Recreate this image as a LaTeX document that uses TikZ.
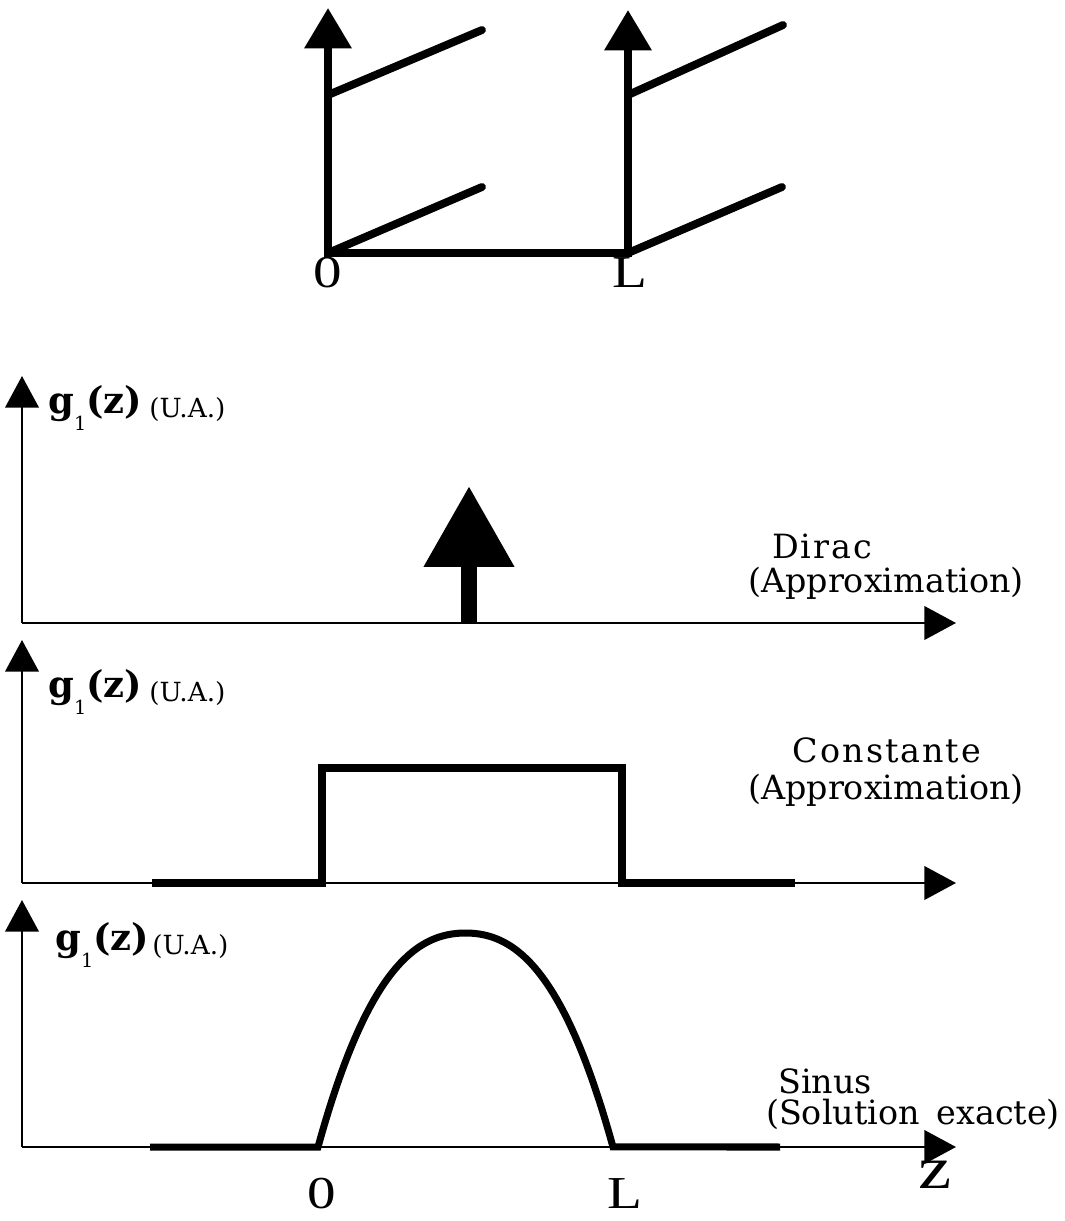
\documentclass[tikz,border=0pt]{standalone}
\usepackage{fontspec}
\usepackage{tikz}
\usetikzlibrary{arrows.meta}
\newfontfamily\labfont{DejaVu Serif}
\newfontfamily\numfont[FakeStretch=1.25]{Liberation Serif}
\newcommand{\gone}{{\bfseries g\raisebox{-0.45em}{\fontsize{11pt}{11pt}\selectfont\mdseries 1}(z)}}

\begin{document}
\begin{tikzpicture}[x=0.02cm,y=-0.02cm,
  wall/.style={line width=4.5pt,-{Triangle[length=23pt,width=26pt]}},
  plate/.style={line width=4.5pt,line cap=round},
  axis/.style={line width=1.6pt,-{Triangle[length=18pt,width=19pt]}},
  curve/.style={line width=4pt,line join=miter},
  numlab/.style={font=\numfont\fontsize{26pt}{26pt}\selectfont,inner sep=0pt},
  glab/.style={font=\labfont\fontsize{21pt}{21pt}\selectfont,inner sep=0pt,anchor=west},
  ualab/.style={font=\labfont\fontsize{15pt}{15pt}\selectfont,inner sep=0pt,anchor=west},
  caption/.style={font=\labfont\fontsize{19pt}{23pt}\selectfont,inner sep=0pt,align=center},
  wide/.style={font=\labfont\fontsize{19pt}{23pt}\selectfont\addfontfeature{LetterSpace=6}}]
\useasboundingbox (0,0) rectangle (1065,1221);
% top sketch
\coordinate (o) at (328,253);
\coordinate (l) at (628,253);
\draw[line width=4.5pt] ([xshift=-2.2pt]o) -- ([xshift=2.2pt]l);
\draw[wall] (o) -- (328,8);
\draw[wall] (l) -- (628,10);
\draw[plate] (o) -- (482,187);
\draw[plate] (328,95) -- (482,30);
\draw[plate] (l) -- (782,187);
\draw[plate] (628,95) -- (783,25);
\node[numlab] (o label) at (328,273) {0};
\node[numlab] (l label) at (630,273) {L};
% Dirac
\coordinate (a1) at (22,623);
\draw[axis] (a1) -- (22,376);
\draw[axis] (a1) -- (956,623);
\node[glab] (g1) at (48,408) {\gone};
\node[ualab] (ua1) at (149,410) {(U.A.)};
\draw[line width=9.6pt,-{Triangle[length=46pt,width=49pt]}] (469,623) -- (469,486);
\node[caption,wide] (dirac) at (822,546) {Dirac};
\node[caption] (approx1) at (886,583) {(Approximation)};
% Constante
\coordinate (a2) at (22,883);
\draw[axis] (a2) -- (22,640);
\draw[axis] (a2) -- (956,883);
\node[glab] (g2) at (48,692) {\gone};
\node[ualab] (ua2) at (149,694) {(U.A.)};
\draw[curve] (152,883) -- (322,883) -- (322,768) -- (622,768) -- (622,883) -- (795,883);
\node[caption,wide] (const) at (887,750) {Constante};
\node[caption] (approx2) at (886,790) {(Approximation)};
% Sinus
\coordinate (a3) at (22,1147);
\draw[axis] (a3) -- (22,900);
\draw[axis] (a3) -- (956,1147);
\node[glab] (g3) at (55,945) {\gone};
\node[ualab] (ua3) at (152,947) {(U.A.)};
\draw[curve] (150,1147) -- (318,1147)
  -- plot[domain=-1:1,samples=80,variable=\u] ({465.5+147.5*\u},{1147-107*(2-\u*\u-pow(abs(\u),3))})
  -- (780,1147);
\node[caption] (sinus) at (825,1081) {Sinus};
\node[caption] (exact) at (913,1114) {(Solution\hspace{0.5em}exacte)};
\node[numlab] (o3) at (322,1194) {0};
\node[numlab] (l3) at (625,1194) {L};
\node[numlab,font=\numfont\fontsize{34pt}{34pt}\selectfont] (zlab) at (935,1175) {z};
\end{tikzpicture}
\end{document}
